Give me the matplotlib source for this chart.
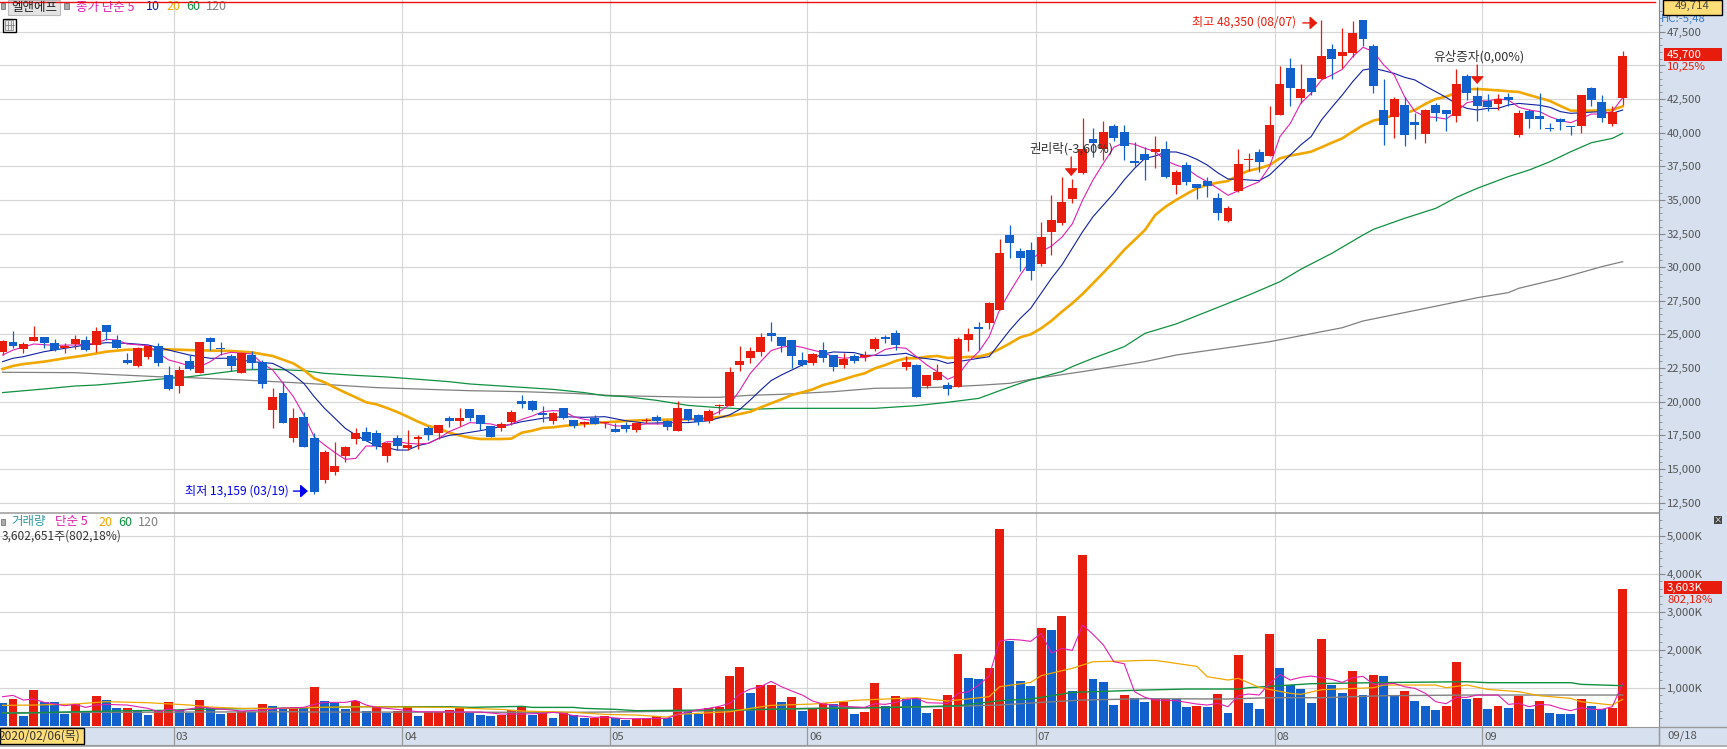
import matplotlib
matplotlib.use('Agg')
import matplotlib.pyplot as plt
from matplotlib.patches import Rectangle
from matplotlib.lines import Line2D

plt.rcParams['font.family'] = ['Noto Sans CJK KR', 'DejaVu Sans']

# ── Candles (price) ───────────────────────────────────────────
candle_dir = ("RBRRBBRRBR" "BBBRRBBRBR" "BBBRBBRBRB" "BRRRRBBRBR" "RBRBRBBBRR"
              "BBBRBBRBRB" "BRRBBRBBRR" "RRRRBBBBRB" "BRBRRBBRBR" "RBRRBRRBBB"
              "RRRRRBRBBB" "BRBRBBBBRR" "RBRRBRBRBR" "RBBBRBBRBB" "RBBBRBRBBB"
              "BBRBBRR")

highs = [24590,25260,24460,25630,24810,24660,24340,24960,24890,25580,
         25700,24960,23650,24090,24170,24360,22660,22660,23470,24440,
         24810,24440,23550,23620,23770,23100,21020,21470,19540,19240,
         17650,16410,17010,16710,18050,18120,17900,17010,17530,17900,
         17530,18200,18270,18940,19540,19460,19020,18200,18490,19390,
         20500,20130,19680,19240,19540,18640,18590,19020,18490,18400,
         18520,18520,18790,19020,18640,20050,19460,19090,19460,19830,
         22580,24140,24070,25110,25930,24810,24590,23700,23620,24440,
         23470,23620,23550,23770,24810,24960,25330,23400,22800,21990,
         22800,21470,24810,25480,25930,27410,32090,33130,31420,31870,
         33360,35360,36700,36550,41080,40340,40860,40640,40560,39300,
         38930,39750,39380,37220,37820,36180,36700,35510,34550,38780,
         38480,38780,41980,44950,45540,45100,44060,48350,46580,47770,
         48290,48350,46580,43980,42650,42650,41460,41750,42200,41680,
         44730,44350,43390,42870,42870,42940,41680,41750,42940,40710,
         41090,40490,42790,43390,42790,41980,46060]

body_top = [24540,24440,24290,24810,24810,24340,24170,24660,24590,25260,
            25700,24590,23100,23990,24170,24140,21990,22360,23030,24440,
            24740,23990,23400,23620,23470,22950,20350,20650,18790,18870,
            17310,16270,15230,16640,17680,17750,17680,16930,17310,16790,
            17380,18050,18270,18790,18790,19460,19020,18200,18350,19240,
            20050,20050,19160,19160,19540,18640,18490,18790,18490,17970,
            18270,18420,18670,18870,18570,19540,19460,19020,19310,19760,
            22210,23030,23770,24810,25110,24810,24590,23100,23550,23840,
            23470,23180,23400,23470,24660,24810,25110,22950,22730,21990,
            22210,21240,24660,25030,25550,27340,31050,32390,31200,31280,
            32240,33510,34840,35880,38780,39520,40040,40490,40040,37890,
            38410,38780,38780,37070,37590,36180,36400,35140,34400,37670,
            38040,38560,40560,43610,44800,43240,44060,45690,46210,45990,
            47400,48350,46440,41680,42500,42050,40790,41680,42050,41680,
            43610,44210,42720,42350,42500,42650,41460,41610,41230,40340,
            41010,40490,42790,43310,42270,41530,45700]

body_bot = [23720,24140,23920,24510,24390,23840,23990,24290,23840,24220,
            25180,23990,22880,22660,23330,22880,20950,21170,22430,22140,
            24440,23920,22660,22140,22880,21320,19390,18420,17310,16640,
            13290,14180,14780,15970,17230,17080,16710,15970,16710,16560,
            17230,17530,17680,18570,18570,18790,18350,17380,18050,18490,
            19830,19390,19020,18570,18790,18200,18350,18350,18400,17750,
            17970,17900,18570,18570,18120,17830,18640,18490,18570,19680,
            19680,22730,23250,23700,24890,24140,23400,22730,22880,23250,
            22580,22730,23030,23330,23920,24660,24220,22580,20350,21170,
            21620,20950,21100,24590,25410,25850,26820,31800,30680,29720,
            30240,32610,33280,35070,37000,39230,38780,39600,39000,37740,
            37960,38560,36700,36110,36330,35880,36030,34030,33430,35660,
            37960,37820,38260,41310,43310,42570,43020,43980,45470,45690,
            45920,46960,43460,40560,41160,39820,40560,39900,41460,41380,
            41230,42940,41980,41900,42130,42420,39820,41010,41010,40270,
            40810,40420,40490,42420,41090,40640,42570]

lows = [23470,23970,23650,24510,23990,23790,23650,23920,23790,23670,
        24590,23990,22800,22580,23180,22660,20870,20680,22360,22140,
        23840,23470,22290,22140,22430,21020,18050,18420,17010,16640,
        13160,13960,14560,15520,16860,17080,16490,15520,16410,16410,
        16490,17160,17230,18120,18200,18570,17900,17380,17830,18270,
        19540,19340,18490,18350,18720,18050,18120,18350,18050,17750,
        17750,17750,18420,18350,17900,17830,18570,18270,18420,19090,
        19680,22290,22880,23400,24510,23700,22510,22660,22730,22950,
        22290,22510,22880,23030,23770,24360,23840,22360,20350,21020,
        21620,20500,21100,23770,23840,25410,26820,30680,29720,29050,
        30090,30900,33130,34770,36920,38190,37960,39380,37960,37520,
        36480,37370,36630,35440,36110,35070,35210,33510,33360,35590,
        37150,37070,38260,41310,41980,42200,42790,43980,43980,44830,
        45620,46440,42940,39080,39600,39000,39520,39230,40860,40120,
        40790,42420,40860,41610,41680,41980,39670,40340,40270,40120,
        40190,39820,39970,41980,40790,40490,42050]

# ── Price moving averages ─────────────────────────────────────
ma5_x = [0,1,3,5,7,9,10,11,12,14,15,16,17,18,19,20,21,22,24,25,26,27,28,29,30,31,32,33,34,35,36,37,38,39,40,41,42,43,44,45,46,47,48,49,50,51,52,53,54,55,
         56,57,58,59,60,61,62,63,64,65,66,67,68,69,70,71,72,73,74,75,76,77,78,79,80,81,82,83,84,85,86,87,88,89,90,91,92,93,94,95,96,97,98,99,100,
         101,102,103,104,105,106,107,108,109,110,111,112,113,114,115,116,117,118,119,120,121,122,123,124,125,126,127,128,129,130,
         131,132,133,134,135,136,137,138,139,140,141,142,143,144,145,146,147,148,149,150,151,152,153,154,155,156]
ma5_y = [23470,23840,24290,24190,24220,24340,24640,24590,24290,24170,23600,23100,22900,22660,22610,22980,23500,23670,23550,22850,22360,21370,20380,19020,17400,16790,16220,15720,15790,16710,16710,17030,17030,16910,16860,16910,17280,17780,18100,18450,18400,18350,18150,18350,18690,18940,19260,19340,19310,18890,
         18690,18590,18400,18200,18200,18270,18350,18350,18350,18590,18770,18590,18890,19260,19760,20870,22110,22980,23800,24040,24190,24040,23840,23650,23350,23230,23300,23280,23470,23890,24040,23970,23350,22730,22240,21670,21990,22980,23720,24840,26820,28180,29420,30530,31150,
         31570,32220,33210,34990,36480,37720,38910,39250,39130,38830,38580,37910,37590,37340,36780,36350,35860,35340,35680,36030,36350,37470,39700,40690,42170,42920,43910,44280,44700,45640,
         46340,46010,45020,44280,42670,41560,41180,41130,41010,41560,42220,42370,42350,42500,42420,41880,41680,41560,41180,40890,40740,41060,41380,41380,41560,42600]

ma10_x = [0,1,2,4,6,8,10,12,14,16,18,20,22,24,26,27,28,29,30,31,32,33,34,35,36,37,38,39,40,41,42,43,44,46,48,50,52,54,56,58,60,62,64,66,68,70,71,72,73,74,75,76,77,78,79,80,82,83,85,87,88,90,91,92,94,95,96,97,98,99,100,
          101,102,103,104,105,106,107,108,109,110,111,112,113,114,115,116,117,118,119,121,122,123,124,125,126,127,128,129,130,131,132,133,134,135,136,137,138,139,140,141,142,143,144,145,146,147,148,149,150,151,152,154,155,156]
ma10_y = [22980,23230,23350,23720,23970,24220,24390,24340,24220,23840,23470,23230,23230,22980,22850,22480,21990,21370,20380,19510,18770,18020,17530,17110,16710,16590,16410,16410,16740,16910,17280,17500,17600,17850,18150,18520,18770,18890,18840,18890,18590,18400,18450,18450,18590,19020,19440,20130,20870,21570,21990,22360,22730,23230,23550,23700,23650,23450,23450,23600,23300,23100,22850,22980,23230,23350,24340,25330,26200,26940,28060,
          29170,30160,31400,32640,33750,34620,35490,36480,37340,38090,38260,38560,38560,38340,38010,37590,37020,36550,36530,36430,36850,37590,38340,39080,39700,40940,41880,42790,43780,44650,44780,44600,44400,44110,43910,43460,43040,42620,42130,41800,41680,41800,41800,42050,42170,42100,42030,41880,41560,41430,41480,41560,41430,41680]

ma20_x = [0,1,2,4,6,8,10,12,14,16,18,20,22,24,26,28,29,30,31,32,33,34,35,36,37,38,39,40,41,42,43,44,45,46,48,49,50,51,52,53,54,55,56,58,60,62,64,66,68,70,71,72,73,74,75,76,77,78,79,80,81,82,83,84,85,86,87,88,89,90,91,93,94,95,96,97,98,99,100,
          101,102,103,104,105,106,107,108,109,110,111,112,113,114,115,116,117,118,119,120,121,122,123,124,125,126,127,128,129,130,131,132,133,134,135,136,137,138,139,140,141,142,143,144,145,146,147,148,149,150,151,153,155,156]
ma20_y = [22430,22660,22800,22980,23230,23450,23720,23870,23890,23890,23840,23800,23770,23670,23400,22850,22360,21740,21440,21050,20680,20330,19960,19810,19540,19240,18890,18520,18200,18020,17700,17500,17330,17230,17230,17260,17700,17850,18050,18100,18200,18270,18350,18470,18570,18640,18670,18690,18790,18940,19090,19260,19580,19880,20180,20500,20700,20920,21240,21440,21670,21910,22110,22480,22730,23030,23230,23230,23350,23400,23250,23330,23350,23550,23920,24340,24790,25010,25450,
          26020,26690,27310,28010,28800,29590,30410,31280,32020,32760,33880,34500,34990,35440,35860,36110,36280,36400,36850,37170,37340,37590,38090,38290,38430,38580,38910,39250,39570,40070,40540,40890,41060,41310,41430,41680,42130,42500,42670,42970,43220,43240,43190,43140,43070,43020,42790,42570,42350,41980,41630,41630,41680,41950]

ma60_x = [0,4,7,9,12,15,18,21,23,26,29,31,34,37,40,43,45,48,50,53,56,58,60,63,66,69,72,75,84,88,91,94,96,98,99,102,103,105,108,110,113,118,120,123,125,128,131,132,135,138,140,142,145,147,149,151,153,155,156]
ma60_y = [20680,20950,21170,21240,21440,21670,21860,22160,22360,22410,22310,22110,21960,21840,21670,21490,21320,21170,21070,20920,20680,20450,20380,20100,19730,19560,19440,19510,19510,19710,19960,20250,20820,21370,21620,22240,22610,23230,24090,25080,25780,27310,27930,28920,29840,31030,32390,32810,33630,34370,35190,35860,36730,37220,37840,38580,39250,39570,39950]

ma120_x = [0,7,10,15,18,23,28,32,36,41,45,50,55,59,67,69,72,75,80,84,87,90,94,97,99,104,110,113,122,129,131,137,142,145,146,150,154,156]
ma120_y = [22190,22160,22040,21860,21790,21620,21420,21240,21050,20920,20820,20750,20620,20450,20330,20330,20480,20550,20750,21000,21020,21070,21220,21370,21670,22240,22980,23470,24460,25500,26000,26940,27730,28110,28430,29170,30040,30410]

# ── Volume (thousand shares) ──────────────────────────────────
volume_dir = ("BRBRBBBRBR" "BBRBBRRBBR" "BBRRBRBBRB" "RBBBRBRBRR" "BRRRRBBBRR"
              "RBRBRBBRRB" "BRRRBRBBRR" "RRBRRBRBRR" "BRBRRBRBBB" "RRRBBRRBBB"
              "RBRBRBBBRB" "BRRBBRBRBR" "BBRBBBBRBB" "RBRBBRBBBR" "RBRBRBRBRB"
              "BBRBBRR")
volumes = [596,702,254,939,623,623,307,570,351,781,
           675,465,465,412,281,412,623,412,333,675,
           465,307,333,386,360,570,518,465,491,465,
           1018,649,596,439,649,386,491,333,386,491,
           254,360,360,412,491,333,281,254,281,412,
           491,281,386,202,360,281,202,202,246,202,
           149,184,184,263,202,991,386,307,465,491,
           1307,1544,860,1070,1070,623,754,386,465,596,
           570,623,307,360,1123,518,781,702,728,333,
           439,807,1886,1254,1228,1518,5175,2228,1175,1044,
           2570,2518,2886,912,4491,1228,1149,544,807,728,
           623,702,702,702,491,518,491,833,333,1860,
           596,439,2412,1518,1070,965,596,2281,1070,860,
           1439,807,1333,1307,781,912,649,518,412,518,
           1675,702,728,439,518,465,781,439,649,333,
           307,307,702,518,439,465,3603]

vma5_x = [0,1,2,3,4,6,7,8,9,10,12,14,15,16,17,19,21,23,25,27,29,30,31,33,34,35,36,38,40,44,46,48,50,52,53,54,55,56,57,58,59,60,64,65,66,67,68,69,70,71,72,73,74,75,76,77,78,79,80,81,83,84,85,86,87,88,89,91,92,93,94,95,96,97,98,99,100,
          101,102,103,104,105,106,107,108,109,110,111,113,114,115,116,117,118,119,120,121,122,123,124,125,126,127,128,129,130,131,132,133,134,135,136,137,138,139,140,141,142,144,145,146,147,148,149,150,151,152,153,154,155,156]
vma5_y = [763,798,675,702,614,526,561,482,544,561,544,456,368,439,386,491,439,386,412,465,482,561,614,614,667,544,482,430,368,360,360,307,307,325,351,325,263,246,219,228,202,184,193,298,360,421,456,509,588,833,965,1026,1167,1026,912,807,649,570,544,509,482,579,561,614,693,719,605,588,851,895,1070,1307,2228,2272,2254,2219,2430,
          1912,2035,1982,2649,2404,2123,1684,1632,895,746,675,658,614,570,544,588,500,789,833,807,1114,1351,1202,1272,1307,1263,1219,1140,1263,1298,1088,1097,1114,1026,982,851,632,579,746,746,807,807,561,588,500,561,544,456,395,474,430,430,500,1114]

vma20_x = [0,3,7,10,14,18,20,23,27,30,35,43,45,48,50,55,58,61,64,65,70,72,74,78,80,82,88,91,95,96,99,100,102,103,105,108,110,111,115,116,118,119,121,124,125,127,132,133,138,139,141,143,146,148,151,152,155,156]
vma20_y = [535,544,570,632,605,544,491,456,456,482,500,482,456,430,386,351,298,281,228,298,368,456,535,570,614,667,737,649,763,1026,1140,1316,1447,1509,1684,1702,1719,1719,1561,1289,1202,1246,1009,851,825,947,1000,1070,1070,1000,1070,956,895,789,719,632,544,693]

vma60_x = [0,2,7,12,16,18,26,30,34,43,45,50,51,55,56,59,61,71,86,92,96,99,101,103,110,114,119,120,123,126,132,141,143,151,152,156]
vma60_y = [333,333,368,395,404,430,456,474,500,500,482,509,482,482,456,430,395,421,482,526,658,702,789,877,939,965,965,1000,1053,1105,1132,1158,1132,1132,1088,1053]

vma120_x = [0,28,30,55,67,71,77,83,90,96,100,104,110,118,122,127,133,141,156]
vma120_y = [342,368,360,351,386,404,456,474,500,544,614,675,711,702,737,737,789,807,807]

# ── Axis labels ───────────────────────────────────────────────
price_ticks  = [12500,15000,17500,20000,22500,25000,27500,30000,32500,35000,37500,40000,42500,45000,47500]
volume_ticks = [1000,2000,3000,4000,5000]
month_ticks  = [16.5,38.5,58.5,77.5,99.5,122.5,142.5]
month_labels = ['03','04','05','06','07','08','09']

# ── Colours / layout (pixels of the 1727x749 picture) ─────────
RED, BLUE = '#E81C0C', '#1260CC'
C5, C10, C20, C60, C120 = '#E020B0', '#1020A0', '#F0A800', '#109040', '#808080'
PANEL, GRID, TXT = '#D6E0EE', '#D6D6D6', '#555555'
W, H = 1727, 749
PLOT_R = 1659
dir_color = {'R': RED, 'B': BLUE}


def place(x0, y0, x1, y1):
    return [x0/W, 1-y1/H, (x1-x0)/W, (y1-y0)/H]


def ftext(x, y, s, **kw):
    kw.setdefault('fontsize', 8.8)
    kw.setdefault('va', 'center')
    kw.setdefault('color', TXT)
    return fig.text(x/W, 1-y/H, s, **kw)


def fbox(x0, y0, x1, y1, fc, ec='none', lw=0.8, z=5):
    fig.add_artist(Rectangle((x0/W, 1-y1/H), (x1-x0)/W, (y1-y0)/H, transform=fig.transFigure,
                             facecolor=fc, edgecolor=ec, linewidth=lw, zorder=z))


def fline(x0, y0, x1, y1, color, lw=0.8, z=6):
    fig.add_artist(Line2D([x0/W, x1/W], [1-y0/H, 1-y1/H], transform=fig.transFigure,
                          color=color, linewidth=lw, zorder=z))


fig = plt.figure(figsize=(W/100, H/100), dpi=100, facecolor='white')
fbox(PLOT_R, 0, W, 745, PANEL, z=0)

ax  = fig.add_axes(place(0, 0, PLOT_R, 513.3))
vol = fig.add_axes(place(0, 513.3, PLOT_R, 727.3), sharex=ax)
strip = fig.add_axes(place(0, 727.3, PLOT_R, 745), sharex=ax, facecolor=PANEL)

# ── Price panel ───────────────────────────────────────────────
x_all = list(range(len(highs)))
ax.set_xlim(-0.25, 159.5)
ax.set_ylim(11710, 49853)
ax.set_yticks(price_ticks)
# the 45,000 label sits behind the 10,25% tag in the original
ax.yaxis.set_major_formatter(plt.FuncFormatter(lambda v, _: '' if v == 45000 else f'{v:,.0f}'))
ax.set_yticks(range(12000, 49500, 500), minor=True)
ax.yaxis.tick_right()
ax.tick_params(axis='y', which='major', length=4.5, width=0.8, color='#888888', labelcolor=TXT, labelsize=8.2, pad=1.2)
ax.tick_params(axis='y', which='minor', length=2.2, width=0.6, color='#888888')
ax.tick_params(axis='x', length=0, labelbottom=False)
ax.grid(True, axis='y', color=GRID, lw=0.85, zorder=0)
ax.set_axisbelow(True)
for t in month_ticks:
    ax.axvline(t, color=GRID, lw=0.85, zorder=0)
    vol.axvline(t, color=GRID, lw=0.85, zorder=0)
    strip.axvline(t, color='#999999', lw=0.9)
for s in ax.spines.values():
    s.set_visible(False)
ax.spines['right'].set_visible(True)
ax.spines['right'].set_color('#888888')

ax.plot(ma120_x, ma120_y, color=C120, lw=0.9, zorder=2)
ax.plot(ma60_x, ma60_y, color=C60, lw=0.9, zorder=2)
ax.plot(ma20_x, ma20_y, color=C20, lw=1.9, zorder=2)
ax.plot(ma10_x, ma10_y, color=C10, lw=0.8, zorder=2)
ax.plot(ma5_x, ma5_y, color=C5, lw=0.8, zorder=2)

colors = [dir_color[d] for d in candle_dir]
ax.vlines(x_all, lows, highs, colors=colors, lw=0.9, zorder=3)
ax.bar(x_all, [t-b for t, b in zip(body_top, body_bot)], bottom=body_bot,
       width=0.86, color=colors, linewidth=0, zorder=4)

# event markers
arrow = dict(arrowstyle='-|>,head_width=0.3,head_length=0.34', lw=1.0, mutation_scale=13, shrinkA=0, shrinkB=0)
ax.annotate('', xy=(102.9, 36770), xytext=(102.9, 38190), arrowprops=dict(arrow, color=RED), zorder=6)
ax.annotate('', xy=(142, 43610), xytext=(142, 45020), arrowprops=dict(arrow, color=RED), zorder=6)
ax.annotate('', xy=(126.6, 48150), xytext=(125.2, 48150), arrowprops=dict(arrow, color=RED), zorder=6)
ax.annotate('', xy=(29.4, 13360), xytext=(28.0, 13360), arrowprops=dict(arrow, color='#0000F0'), zorder=6)
ax.text(98.9, 38780, '권리락(-3,60%)', fontsize=9.1, color='#333333', va='center', zorder=7)
ax.text(137.8, 45620, '유상증자(0,00%)', fontsize=9.1, color='#333333', va='center', zorder=7)
ax.text(124.6, 48200, '최고 48,350 (08/07)', fontsize=8.7, color=RED, va='center', ha='right', zorder=7)
ax.text(27.6, 13360, '최저 13,159 (03/19)', fontsize=8.7, color='#0000F0', va='center', ha='right', zorder=7)

# ── Volume panel ──────────────────────────────────────────────
vol.set_ylim(-42, 5589)
vol.set_yticks(volume_ticks)
vol.yaxis.set_major_formatter(plt.FuncFormatter(lambda v, _: f'{v:,.0f}K'))
vol.set_yticks(range(200, 5600, 200), minor=True)
vol.yaxis.tick_right()
vol.tick_params(axis='y', which='major', length=4.5, width=0.8, color='#888888', labelcolor=TXT, labelsize=8.2, pad=1.2)
vol.tick_params(axis='y', which='minor', length=2.2, width=0.6, color='#888888')
vol.tick_params(axis='x', length=0, labelbottom=False)
vol.grid(True, axis='y', color=GRID, lw=0.85, zorder=0)
vol.set_axisbelow(True)
for s in vol.spines.values():
    s.set_visible(False)
vol.spines['right'].set_visible(True)
vol.spines['right'].set_color('#888888')
vol.spines['top'].set_visible(True)
vol.spines['top'].set_color('#999999')
vol.spines['top'].set_linewidth(1.1)

vol.bar(x_all, volumes, width=0.86, color=[dir_color[d] for d in volume_dir], linewidth=0, zorder=2)
vol.plot(vma120_x, vma120_y, color=C120, lw=1.0, zorder=3)
vol.plot(vma60_x, vma60_y, color=C60, lw=1.0, zorder=3)
vol.plot(vma20_x, vma20_y, color=C20, lw=0.9, zorder=3)
vol.plot(vma5_x, vma5_y, color=C5, lw=0.8, zorder=3)

# ── Date strip ────────────────────────────────────────────────
strip.set_ylim(0, 1)
strip.set_yticks([])
strip.tick_params(axis='x', length=0, labelbottom=False)
for s in strip.spines.values():
    s.set_color('#999999')
for t, lab in zip(month_ticks, month_labels):
    strip.text(t+0.15, 0.47, lab, fontsize=8.2, color=TXT, va='center')

fline(0, 745.5, W, 745.5, '#999999', 1.1)
fline(PLOT_R, 727.3, W, 727.3, '#999999', 1.0)
fline(PLOT_R, 727.3, PLOT_R, 745, '#999999', 1.0)
fbox(0, 727.5, 84, 744, '#FFDE78', 'black', 1.0)
ftext(-1, 736, '2020/02/06(목)', color='#333333', fontsize=8.6, zorder=7)
ftext(1667, 736, '09/18', fontsize=8.2)

# ── Top legend, price labels ──────────────────────────────────
fline(0, 1.5, 1655, 1.5, '#E81010', 1.0)
fbox(0.5, 3, 5, 9, '#AAAAAA', '#777777', 0.6)
fbox(8, 0, 60, 14.5, '#E4E4E4', '#BBBBBB', 0.8)
ftext(11, 7, '엘앤에프', color='#222222', fontsize=9, zorder=7)
fbox(64, 3, 69, 9, '#AAAAAA', '#777777', 0.6)
ftext(76, 7, '종가 단순 5', color=C5, fontsize=9)
ftext(146, 7, '10', color=C10, fontsize=9)
ftext(166, 7, '20', color=C20, fontsize=9)
ftext(186, 7, '60', color=C60, fontsize=9)
ftext(206, 7, '120', color=C120, fontsize=9)

fbox(2.5, 18.5, 15.5, 31.5, 'white', 'black', 1.0)
fbox(4.5, 20.5, 13.5, 29.5, '#E8E8E8', '#777777', 0.5)
fline(7.5, 20.5, 7.5, 29.5, '#777777', 0.5)
fline(10.5, 20.5, 10.5, 29.5, '#777777', 0.5)
fline(4.5, 25, 13.5, 25, '#777777', 0.5)

fbox(1663, 0, 1722, 14.5, '#FFDE78', 'black', 1.0)
ftext(1675, 6, '49,714', color='#444444', fontsize=8.2, zorder=7)
ftext(1661, 19, 'HC:-5,48', color='#3A78C8', fontsize=8.2)
fbox(1664, 48, 1722, 61, RED)
ftext(1667, 54.5, '45,700', color='white', fontsize=8.2, zorder=7)
ftext(1667, 66.5, '10,25%', color=RED, fontsize=8.2, zorder=7)

# ── Volume legend, volume labels ──────────────────────────────
fbox(0.5, 519, 5, 525, '#AAAAAA', '#777777', 0.6)
ftext(11, 522, '거래량', color='#2E9C9C', fontsize=9)
ftext(55, 522, '단순 5', color=C5, fontsize=9)
ftext(98, 522, '20', color=C20, fontsize=9)
ftext(118, 522, '60', color=C60, fontsize=9)
ftext(138, 522, '120', color=C120, fontsize=9)
ftext(2, 536, '3,602,651주(802,18%)', color='#333333', fontsize=8.6)
fbox(1664, 581, 1722, 594, RED)
ftext(1667, 587.5, '3,603K', color='white', fontsize=8.2, zorder=7)
ftext(1667, 600, '802,18%', color=RED, fontsize=8.2, zorder=7)
fbox(1714, 516, 1722, 524, '#444444')
ftext(1718, 520, '×', color='white', fontsize=6, ha='center', zorder=7)

plt.savefig('out.png', dpi=100)
